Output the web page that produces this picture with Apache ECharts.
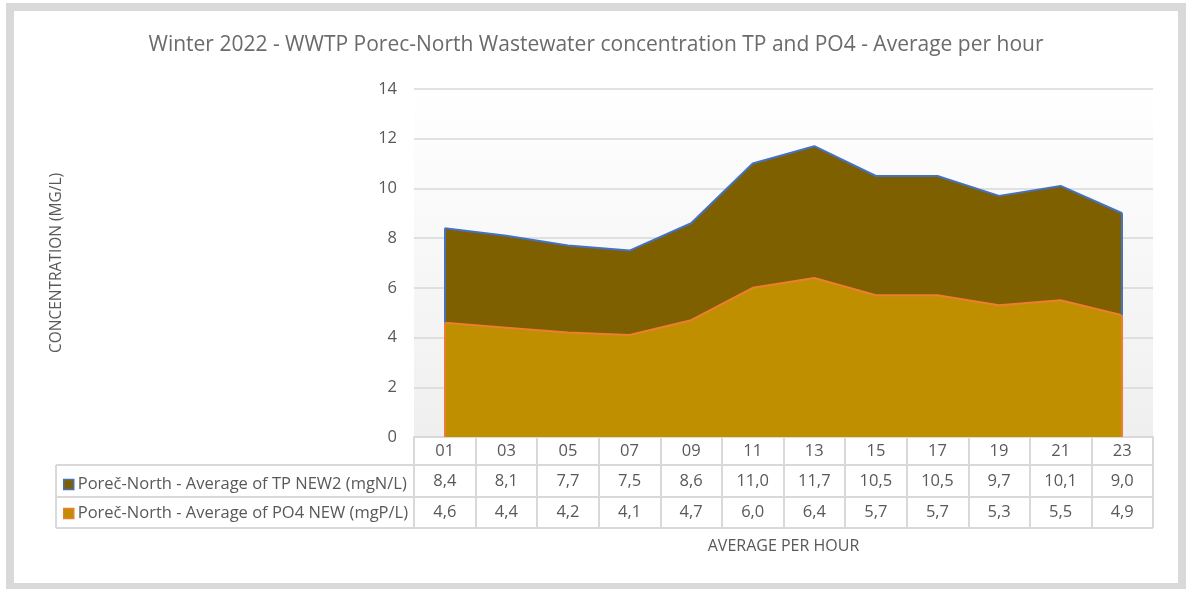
<!DOCTYPE html>
<html>
<head>
<meta charset="utf-8">
<title>WWTP Porec-North TP and PO4</title>
<script src="https://cdn.jsdelivr.net/npm/echarts@6/dist/echarts.min.js"></script>
<style>
  html, body { margin: 0; padding: 0; background: #fff; }
  #chart { width: 1192px; height: 589px; }
</style>
</head>
<body>
<div id="chart"></div>
<script>
const hours = ['01', '03', '05', '07', '09', '11', '13', '15', '17', '19', '21', '23']
const tpValues = [8.4, 8.1, 7.7, 7.5, 8.6, 11.0, 11.7, 10.5, 10.5, 9.7, 10.1, 9.0]
const po4Values = [4.6, 4.4, 4.2, 4.1, 4.7, 6.0, 6.4, 5.7, 5.7, 5.3, 5.5, 4.9]
const tpName = 'Poreč-North - Average of TP NEW2 (mgN/L)'
const po4Name = 'Poreč-North - Average of PO4 NEW (mgP/L)'

const FONT = 'Open Sans'
const TXT = '#595959'
const BORDER = '#d9d9d9'
const FS = 16.5

// plot area (table hangs under it)
const G = { left: 414, right: 39, top: 89, bottom: 152 }
const plotRight = 1192 - G.right
const axisY = 589 - G.bottom
const rowLines = [axisY + 28, axisY + 60, axisY + 91]

const fmt = v => v.toFixed(1).replace('.', ',')
const last = hours.length - 1

function valueAxis(vals, margin) {
  return {
    type: 'category',
    data: hours,
    position: 'bottom',
    axisLine: { show: false },
    axisTick: { show: false },
    axisLabel: {
      margin: margin,
      verticalAlign: 'middle',
      fontFamily: FONT, fontSize: FS, color: TXT,
      formatter: (v, i) => fmt(vals[i])
    }
  }
}

const chart = echarts.init(document.getElementById('chart'))
chart.setOption({
  animation: false,
  backgroundColor: '#fff',
  title: {
    text: 'Winter 2022 - WWTP Porec-North Wastewater concentration TP and PO4 - Average per hour',
    left: 'center',
    top: 30,
    textStyle: { fontFamily: FONT, fontSize: 21, fontWeight: 'normal', color: '#6b6b6b' }
  },
  grid: {
    left: G.left, right: G.right, top: G.top, bottom: G.bottom,
    show: true,
    borderWidth: 0,
    backgroundColor: new echarts.graphic.LinearGradient(0, 0, 0, 1, [
      { offset: 0, color: '#ffffff' },
      { offset: 1, color: '#efefef' }
    ])
  },
  legend: {
    orient: 'vertical',
    left: 58,
    top: 471,
    itemGap: 12,
    itemWidth: 10,
    itemHeight: 10,
    selectedMode: false,
    textStyle: { fontFamily: FONT, fontSize: FS, color: TXT, padding: [0, 0, 0, -1] },
    data: [
      { name: tpName, icon: 'rect', itemStyle: { color: '#7f6000', borderColor: '#4472c4', borderWidth: 1.5 } },
      { name: po4Name, icon: 'rect', itemStyle: { color: '#bf8f00', borderColor: '#ed7d31', borderWidth: 1.5 } }
    ]
  },
  xAxis: [
    {
      type: 'category',
      data: hours,
      position: 'bottom',
      name: 'AVERAGE PER HOUR',
      nameLocation: 'middle',
      nameGap: 109,
      nameTextStyle: { fontFamily: FONT, fontSize: 16, color: TXT, verticalAlign: 'middle' },
      axisLine: { show: true, lineStyle: { color: BORDER, width: 2 } },
      axisTick: { show: true, interval: 0, length: 91, lineStyle: { color: BORDER, width: 2 } },
      axisLabel: {
        margin: 14, verticalAlign: 'middle', interval: 0,
        fontFamily: FONT, fontSize: FS, color: TXT
      }
    },
    valueAxis(tpValues, 44),
    valueAxis(po4Values, 75)
  ],
  yAxis: {
    type: 'value',
    min: 0, max: 14, interval: 2,
    name: 'CONCENTRATION (MG/L)',
    nameLocation: 'middle',
    nameRotate: 90,
    nameGap: 349,
    nameTextStyle: { fontFamily: FONT, fontSize: 15.5, color: TXT },
    axisLine: { show: false },
    axisTick: { show: false },
    axisLabel: { margin: 17, fontFamily: FONT, fontSize: FS, color: TXT },
    splitLine: { lineStyle: { color: BORDER, width: 1.5 } }
  },
  series: [
    {
      name: tpName,
      type: 'line',
      data: tpValues,
      symbol: 'none',
      itemStyle: { color: '#7f6000' },
      lineStyle: { color: '#4472c4', width: 2 },
      areaStyle: { color: '#7f6000', opacity: 1 },
      z: 2,
      markLine: {
        silent: true, symbol: 'none', label: { show: false },
        lineStyle: { color: '#4472c4', width: 2, type: 'solid' },
        data: [
          [{ coord: [hours[0], po4Values[0]] }, { coord: [hours[0], tpValues[0]] }],
          [{ coord: [hours[last], po4Values[last]] }, { coord: [hours[last], tpValues[last]] }]
        ]
      }
    },
    {
      name: po4Name,
      type: 'line',
      data: po4Values,
      symbol: 'none',
      itemStyle: { color: '#bf8f00' },
      lineStyle: { color: '#ed7d31', width: 2 },
      areaStyle: { color: '#bf8f00', opacity: 1 },
      z: 3,
      markLine: {
        silent: true, symbol: 'none', label: { show: false },
        lineStyle: { color: '#ed7d31', width: 2, type: 'solid' },
        data: [
          [{ coord: [hours[0], 0] }, { coord: [hours[0], po4Values[0]] }],
          [{ coord: [hours[last], 0] }, { coord: [hours[last], po4Values[last]] }]
        ]
      }
    }
  ],
  graphic: [
    // outer frame
    { type: 'rect', shape: { x: 10, y: 7, width: 1172, height: 580 }, style: { fill: 'none', stroke: BORDER, lineWidth: 8 }, silent: true },
    // table row borders
    { type: 'line', shape: { x1: 56, y1: rowLines[0], x2: plotRight, y2: rowLines[0] }, style: { stroke: BORDER, lineWidth: 2 }, silent: true },
    { type: 'line', shape: { x1: 56, y1: rowLines[1], x2: plotRight, y2: rowLines[1] }, style: { stroke: BORDER, lineWidth: 2 }, silent: true },
    { type: 'line', shape: { x1: 56, y1: rowLines[2], x2: plotRight, y2: rowLines[2] }, style: { stroke: BORDER, lineWidth: 2 }, silent: true },
    { type: 'line', shape: { x1: 56, y1: rowLines[0], x2: 56, y2: rowLines[2] }, style: { stroke: BORDER, lineWidth: 2 }, silent: true }
  ]
})
</script>
</body>
</html>
